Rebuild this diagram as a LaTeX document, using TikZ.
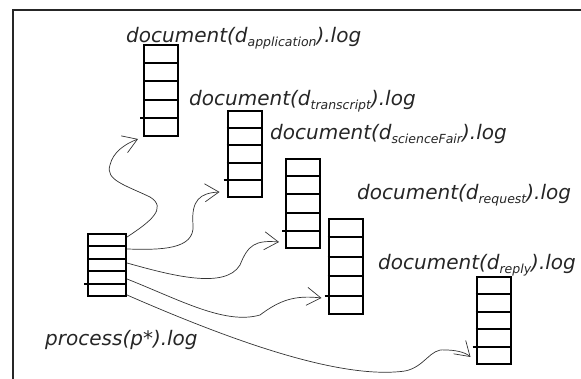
\documentclass[tikz,border=0pt]{standalone}
\usepackage{fontspec}
\setmainfont{DejaVu Sans}
\usetikzlibrary{arrows.meta,calc}

% subscript set in a smaller size and dropped below the baseline
\newcommand\logsub[1]{\raisebox{-3.5pt}{\fontsize{12.5}{13}\selectfont #1}}

\tikzset{
  frameline/.style={line width=1.3pt, draw=black!85},
  logstack/.style={draw, line width=2pt, rectangle, inner sep=0pt,
                   minimum width=#1},
  logstack/.default=34pt,
  loglabel/.style={anchor=base west, inner sep=0pt, text=black!85,
                   font=\fontsize{20}{24}\selectfont\itshape},
  flow/.style={line width=0.7pt, draw=black!80,
               -{Straight Barb[length=14pt,width=18pt,line width=0.7pt]}},
}

% four dividers per stack; the fourth one overhangs the left edge a little
\newcommand\dividers[1]{%
  \foreach \k in {1,2,3}
    \draw[line width=2pt] ($(#1.north west)!\k/5!(#1.south west)$) --
                          ($(#1.north east)!\k/5!(#1.south east)$);
  \draw[line width=2pt] ($(#1.north west)!4/5!(#1.south west)+(-3pt,0)$) --
                        ($(#1.north east)!4/5!(#1.south east)$);
}

\begin{document}
\begin{tikzpicture}[x=1pt, y=-1pt]
  \useasboundingbox (0,0) rectangle (581,379);

  % frame edges
  \draw[frameline] (581,10) -- (13,10) -- (13,379);

  % log stacks
  \node[logstack, minimum height=91pt] (app) at (161,90.5) {};
  \node[logstack, minimum height=86pt] (tra) at (244.5,154) {};
  \node[logstack, minimum height=89pt] (sci) at (303,203.5) {};
  \node[logstack, minimum height=95pt] (req) at (345.5,266.5) {};
  \node[logstack, minimum height=87pt] (rep) at (493.5,320.5) {};
  \node[logstack=38pt, minimum height=62pt] (proc) at (107,265) {};
  \foreach \s in {app,tra,sci,req,rep,proc} { \dividers{\s} }

  % labels
  \node[loglabel] (lapp) at (126,43) {document(d\logsub{application}).log};
  \node[loglabel] (ltra) at (189,106) {document(d\logsub{transcript}).log};
  \node[loglabel] (lsci) at (270,140) {document(d\logsub{scienceFair}).log};
  \node[loglabel] (lreq) at (357,200) {document(d\logsub{request}).log};
  \node[loglabel] (lrep) at (378,270) {document(d\logsub{reply}).log};
  \node[loglabel] (lproc) at (45,345) {process(p*).log};

  % flows from the process log to each document log
  \draw[flow] ([yshift=-4pt]proc.north east)
     .. controls (150,222) and (168,208) .. (150,197)
     .. controls (125,185) and (105,180) .. (110,165)
     .. controls (113,152) and (125,144) .. ([xshift=-5pt,yshift=-2pt]app.south west);
  \draw[flow] ([yshift=-16pt]proc.north east)
     .. controls (160,250) and (195,250) .. (193,225)
     .. controls (191,200) and (200,193) .. ([xshift=-7pt,yshift=6pt]tra.south west);
  \draw[flow] ([yshift=-30pt]proc.north east)
     .. controls (170,275) and (225,290) .. (240,265)
     .. controls (248,245) and (255,240) .. ([xshift=-6pt,yshift=7pt]sci.south west);
  \draw[flow] ([yshift=-46pt]proc.north east)
     .. controls (180,300) and (225,325) .. (260,315)
     .. controls (280,300) and (295,295) .. ([xshift=-6pt,yshift=17pt]req.south west);
  \draw[flow] ([yshift=-62pt]proc.north east)
     .. controls (230,340) and (340,380) .. (405,371)
     .. controls (425,367) and (430,348) .. (445,350)
     .. controls (455,350) and (465,352) .. ([xshift=-5pt,yshift=8pt]rep.south west);
\end{tikzpicture}
\end{document}
